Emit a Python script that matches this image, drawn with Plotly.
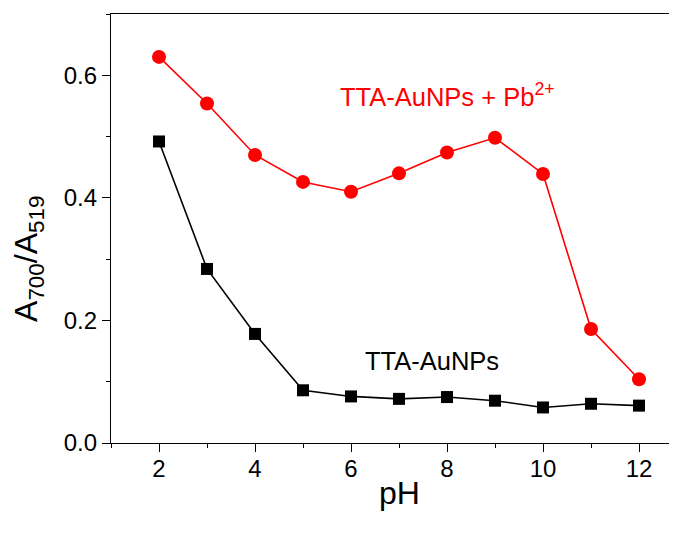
import plotly.graph_objects as go

ph = [2, 3, 4, 5, 6, 7, 8, 9, 10, 11, 12]
ratio_pb = [0.630, 0.554, 0.470, 0.426, 0.410, 0.440, 0.474, 0.498, 0.439, 0.186, 0.104]
ratio_np = [0.492, 0.284, 0.178, 0.086, 0.076, 0.072, 0.075, 0.069, 0.058, 0.064, 0.061]

label_pb = "TTA-AuNPs + Pb<sup>2+</sup>"
label_np = "TTA-AuNPs"
x_title = "pH"
y_title = "A<sub>700</sub>/A<sub>519</sub>"
x_ticks = [2, 4, 6, 8, 10, 12]
y_ticks = [0.0, 0.2, 0.4, 0.6]

FONT = "Arial, 'Liberation Sans', sans-serif"

fig = go.Figure()
fig.add_trace(go.Scatter(
    x=ph, y=ratio_np, mode="lines+markers",
    line=dict(color="black", width=1.6),
    marker=dict(symbol="square", size=12, color="black"),
    showlegend=False,
))
fig.add_trace(go.Scatter(
    x=ph, y=ratio_pb, mode="lines+markers",
    line=dict(color="#ff0000", width=1.6),
    marker=dict(symbol="circle", size=14, color="#ff0000"),
    showlegend=False,
))

fig.add_annotation(x=8.0, y=0.568, xref="x", yref="y", text=label_pb,
                   showarrow=False, font=dict(family=FONT, size=25.5, color="#ff0000"),
                   xanchor="center", yanchor="middle")
fig.add_annotation(x=7.69, y=0.134, xref="x", yref="y", text=label_np,
                   showarrow=False, font=dict(family=FONT, size=25.5, color="black"),
                   xanchor="center", yanchor="middle")
# axis titles
fig.add_annotation(x=7, y=0, xref="x", yref="paper", text=x_title,
                   showarrow=False, font=dict(family=FONT, size=32, color="black"),
                   xanchor="center", yanchor="middle", yshift=-50)
fig.add_annotation(x=0, y=0.429, xref="paper", yref="paper", text=y_title,
                   showarrow=False, font=dict(family=FONT, size=32, color="black"),
                   textangle=-90, xanchor="center", yanchor="middle", xshift=-82)

fig.update_xaxes(
    range=[1, 12.958], tickvals=x_ticks, ticktext=[str(v) for v in x_ticks],
    showline=True, linecolor="black", linewidth=1.3, mirror=True,
    ticks="outside", ticklen=8, tickwidth=1.3, tickcolor="black",
    minor=dict(tickvals=[1, 3, 5, 7, 9, 11], ticks="outside", ticklen=4, tickwidth=1.3, tickcolor="black"),
    showgrid=False, zeroline=False, automargin=False, ticklabelstandoff=-4,
    tickfont=dict(family=FONT, size=24, color="black"),
)
fig.update_yaxes(
    range=[0, 0.7], tickvals=y_ticks, ticktext=["%.1f" % v for v in y_ticks],
    showline=True, linecolor="black", linewidth=1.3, mirror=False,
    ticks="outside", ticklen=8, tickwidth=1.3, tickcolor="black",
    minor=dict(tickvals=[0.1, 0.3, 0.5, 0.7], ticks="outside", ticklen=4, tickwidth=1.3, tickcolor="black"),
    showgrid=False, zeroline=False, automargin=False,
    tickfont=dict(family=FONT, size=24, color="black"),
)

fig.update_layout(
    width=677, height=535,
    margin=dict(l=103, r=0, t=6, b=100),
    plot_bgcolor="white", paper_bgcolor="white",
)

fig.write_html("out.html")
